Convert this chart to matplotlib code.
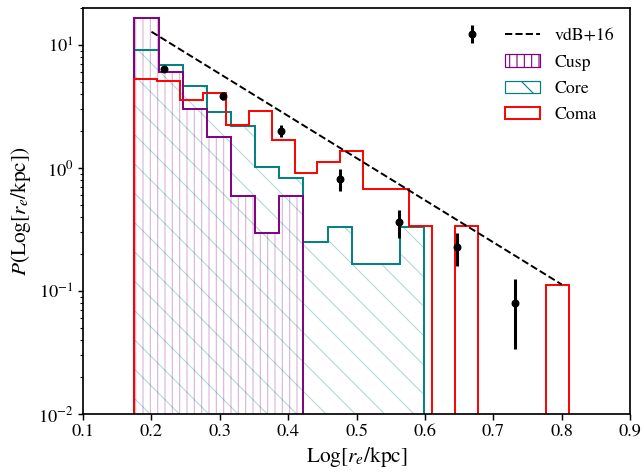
import numpy as np
import matplotlib
matplotlib.use("Agg")
import matplotlib.pyplot as plt
from matplotlib.patches import Patch
from matplotlib.lines import Line2D

plt.rcParams['font.family'] = 'STIXGeneral'
plt.rcParams['mathtext.fontset'] = 'stix'
plt.rcParams['hatch.linewidth'] = 0.9

# histogram bins (Log r_e / kpc)
edges_cc = np.linspace(0.175, 0.599, 13)
edges_coma = np.linspace(0.175, 0.811, 20)

cusp = [16.7, 6.03, 2.99, 1.80, 0.588, 0.294, 0.588, 0, 0, 0, 0, 0]
core = [9.04, 6.91, 4.63, 2.84, 2.19, 1.01, 0.83, 0.248, 0.332, 0.166, 0.166, 0.332]
coma = [5.31, 5.05, 3.54, 4.06, 2.25, 2.91, 1.69, 0.905, 1.11, 1.37, 0.675, 0.675,
        0.335, 0, 0.335, 0, 0, 0, 0.111]

# vdB+16 points and fit line
vdb_x = [0.219, 0.305, 0.390, 0.476, 0.562, 0.647, 0.732]
vdb_y = [6.41, 3.84, 2.01, 0.818, 0.363, 0.226, 0.080]
vdb_err = [0.35, 0.30, 0.21, 0.165, 0.095, 0.068, 0.046]
fit_x = [0.2, 0.8]
fit_y = [12.8, 0.113]

fig = plt.figure(figsize=(7.32, 5.365), dpi=88)
ax = fig.add_axes([0.129, 0.123, 0.849, 0.860])
ax.set_yscale('log', nonpositive='clip')

cc_centers = 0.5 * (edges_cc[1:] + edges_cc[:-1])
coma_centers = 0.5 * (edges_coma[1:] + edges_coma[:-1])

ax.hist(cc_centers, bins=edges_cc, weights=core, histtype='stepfilled',
        facecolor='none', edgecolor=(0, 0.5, 0.5, 0.3), hatch='\\', lw=0)
ax.hist(cc_centers, bins=edges_cc, weights=cusp, histtype='stepfilled',
        facecolor='none', edgecolor=(0.5, 0, 0.5, 0.3), hatch='||', lw=0)
ax.hist(cc_centers, bins=edges_cc, weights=core, histtype='step', color='teal', lw=1.6)
ax.hist(cc_centers, bins=edges_cc, weights=cusp, histtype='step', color='purple', lw=1.6)
ax.hist(coma_centers, bins=edges_coma, weights=coma, histtype='step', color='red', lw=1.6)

ax.plot(fit_x, fit_y, 'k--', lw=1.6)
eb = ax.errorbar(vdb_x, vdb_y, yerr=vdb_err, fmt='o', color='k', ms=5.5, elinewidth=2.5, capsize=0)

ax.set_xlim(0.1, 0.9)
ax.set_ylim(0.01, 20)
ax.set_xticks([0.1, 0.2, 0.3, 0.4, 0.5, 0.6, 0.7, 0.8, 0.9])
ax.set_xticklabels(['0.1', '0.2', '0.3', '0.4', '0.5', '0.6', '0.7', '0.8', '0.9'])
ax.tick_params(labelsize=15, width=1.2, length=4.5)
ax.tick_params(which='minor', width=0.9, length=2.8)
for s in ax.spines.values():
    s.set_linewidth(1.4)

ax.set_xlabel(r'$\mathrm{Log}[r_e/\mathrm{kpc}]$', fontsize=17.5)
ax.set_ylabel(r'$P(\mathrm{Log}[r_e/\mathrm{kpc}])$', fontsize=17.5)

handles = [Line2D([], [], color='k', ls='--', lw=1.6),
           Patch(facecolor='white', edgecolor='purple', hatch='||'),
           Patch(facecolor='white', edgecolor='teal', hatch='\\'),
           Patch(facecolor='white', edgecolor='red', lw=1.6)]
leg = ax.legend(handles, ['vdB+16', 'Cusp', 'Core', 'Coma'], loc='upper right',
                frameon=False, fontsize=14.5, labelspacing=0.56,
                bbox_to_anchor=(1.0, 0.99))
ax.add_artist(leg)
ax.legend([eb], [''], loc='upper right', frameon=False, fontsize=14.5,
          handlelength=1.0, bbox_to_anchor=(0.782, 0.99))

fig.savefig('out.png', dpi=88)
